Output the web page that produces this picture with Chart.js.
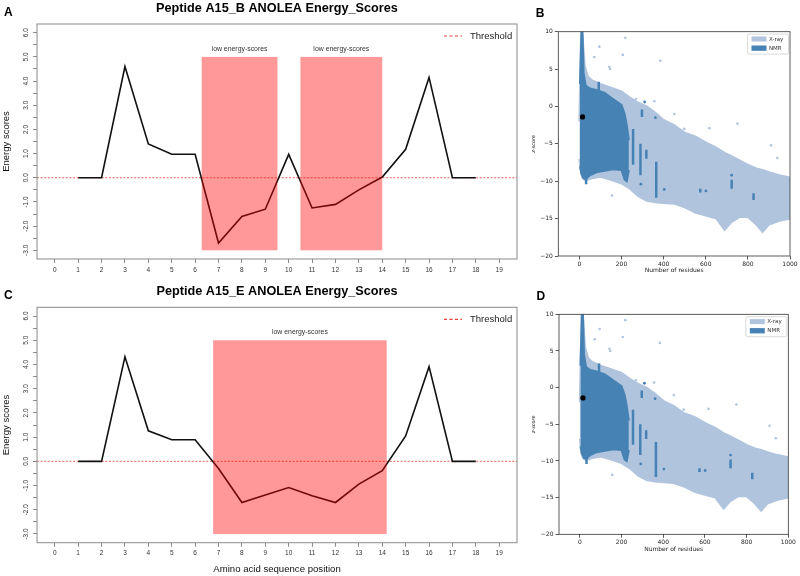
<!DOCTYPE html>
<html>
<head>
<meta charset="utf-8">
<script src="https://cdn.jsdelivr.net/npm/chart.js@4/dist/chart.umd.min.js"></script>
<style>
  body { margin: 0; background: #fff; }
  #wrap { position: relative; width: 800px; height: 576px; }
  #wrap canvas { position: absolute; left: 0; top: 0; }
</style>
</head>
<body>
<div id="wrap">
  <canvas id="panelA" width="800" height="576"></canvas>
  <canvas id="panelB" width="800" height="576"></canvas>
  <canvas id="panelC" width="800" height="576"></canvas>
  <canvas id="panelD" width="800" height="576"></canvas>
</div>
<script>
// ---- energy score panels (A, C)
const positions = [1, 2, 3, 4, 5, 6, 7, 8, 9, 10, 11, 12, 13, 14, 15, 16, 17, 18];
const scoresA15B = [0, 0, 4.6, 1.4, 0.97, 0.97, -2.7, -1.6, -1.3, 0.97, -1.25, -1.1, -0.5, 0.03, 1.18, 4.15, 0, 0];
const scoresA15E = [0, 0, 4.32, 1.26, 0.89, 0.89, -0.3, -1.7, -1.39, -1.08, -1.42, -1.7, -0.94, -0.39, 1.05, 3.91, 0, 0];
const lowRegionsB = [[6.28, 9.52], [10.5, 14.0]];
const lowRegionsE = [[6.77, 14.19]];
const regionTop = 5;
const regionBottom = -3;
const threshold = 0;
const energyXTicks = [0, 1, 2, 3, 4, 5, 6, 7, 8, 9, 10, 11, 12, 13, 14, 15, 16, 17, 18, 19];
const energyYTicks = [-3, -2.5, -2, -1.5, -1, -0.5, 0, 0.5, 1, 1.5, 2, 2.5, 3, 3.5, 4, 4.5, 5, 5.5, 6];

// ---- z-score panels (B, D): outline of the point clouds
const xrayX =     [0, 8, 15, 25, 40, 60, 100, 150, 200, 240, 280, 320, 360, 400, 450, 500, 550, 600, 650, 690, 720, 760, 800, 840, 870, 900, 950, 1000];
const xrayUpper = [-2, 9.8, 9.5, 5.5, 4, 3.5, 3, 2.5, 2, 1.2, 0.5, 0, -0.8, -1.8, -2.5, -3.5, -4, -4.8, -5.5, -6.2, -6.6, -7.2, -7.8, -8.3, -8.5, -8.8, -9.2, -9.5];
const xrayLower = [-7, -9, -9.6, -9.8, -9.8, -9.6, -9.4, -9.8, -10.3, -11, -12, -12.6, -12.8, -12.9, -13, -13.5, -14.2, -14.6, -15, -16.5, -15.5, -14.8, -14.8, -15.8, -16.8, -15.8, -15.3, -15];
const nmrX =      [3, 10, 15, 20, 30, 50, 80, 120, 160, 200, 215, 225, 235];
const nmrUpper =  [3, 9.8, 10, 4.5, 2.8, 2.4, 2.2, 1.8, 1.0, 0.2, -1.0, -2.5, -4.5];
const nmrLower =  [-8, -9, -9.3, -9.6, -9.7, -9.2, -8.8, -8.6, -8.4, -8.5, -9.8, -10, -8.5];
// vertical NMR streaks: [residues, top, bottom]
const nmrStreaks = [[92, 3.3, 2.0], [190, 0.2, -0.9], [205, -2.5, -3.8], [297, -0.4, -1.4], [255, -3, -7.8],
  [290, -5, -9.2], [318, -5.8, -7], [365, -7.4, -12.2], [723, -9.8, -11], [827, -11.6, -12.5], [574, -11, -11.5], [32, -9.6, -10.4]];
const nmrDots = [[361, -1.5], [292, -10.4], [403, -11.1], [601, -11.3], [723, -9.2], [310, 0.6]];
const xrayOutliers = [[95, 8], [218, 9.2], [206, 6.9], [142, 5.3], [146, 5.0], [384, 6.1], [71, 6.6], [751, -2.3],
  [269, 1.0], [356, 0.7], [451, -1.0], [498, -3], [617, -2.9], [910, -5.2], [940, -6.9], [155, -11.9]];
const peptidePoint = [15, -1.4];
const zXTicks = [0, 200, 400, 600, 800, 1000];
const zYTicks = [-20, -15, -10, -5, 0, 5, 10];

const lightBlue = '#b0c4de';
const steelBlue = '#4682b4';

function energyDecor(regions, titleText, letter) {
  return {
    id: 'energyDecor',
    afterDatasetsDraw(chart) {
      const { ctx, chartArea: a, scales: { x, y } } = chart;
      ctx.save();
      for (const [x0, x1] of regions) {
        const px0 = x.getPixelForValue(x0), px1 = x.getPixelForValue(x1);
        const py0 = y.getPixelForValue(regionTop), py1 = y.getPixelForValue(regionBottom);
        ctx.fillStyle = 'rgba(255,0,0,0.4)';
        ctx.fillRect(px0, py0, px1 - px0, py1 - py0);
        ctx.fillStyle = '#333';
        ctx.font = '6.9px "Liberation Sans"';
        ctx.textAlign = 'center';
        ctx.textBaseline = 'middle';
        ctx.fillText('low energy-scores', (px0 + px1) / 2, py0 - 7.7);
      }
      // box
      ctx.strokeStyle = '#8a8a8a';
      ctx.lineWidth = 1;
      ctx.strokeRect(a.left, a.top, a.right - a.left, a.bottom - a.top);
      // legend
      const ly = a.top + 12;
      ctx.strokeStyle = '#e8403c';
      ctx.lineWidth = 1.2;
      ctx.setLineDash([3, 2.5]);
      ctx.beginPath();
      ctx.moveTo(a.right - 73, ly);
      ctx.lineTo(a.right - 55, ly);
      ctx.stroke();
      ctx.setLineDash([]);
      ctx.fillStyle = '#222';
      ctx.font = '9.5px "Liberation Sans"';
      ctx.textAlign = 'left';
      ctx.textBaseline = 'middle';
      ctx.fillText('Threshold', a.right - 47, ly);
      // title and panel letter
      ctx.fillStyle = '#000';
      ctx.font = 'bold 12.7px "Liberation Sans"';
      ctx.textAlign = 'center';
      ctx.fillText(titleText, (a.left + a.right) / 2, a.top - 15.7);
      ctx.font = 'bold 12px "Liberation Sans"';
      ctx.textAlign = 'left';
      ctx.textBaseline = 'alphabetic';
      ctx.fillText(letter, 4, a.top - 8.3);
      ctx.restore();
    }
  };
}

function energyChart(id, scores, regions, area, titleText, letter, xTitle) {
  const xH = xTitle ? 576 - area.bottom : 20;
  const fam = '"Liberation Sans"';
  new Chart(document.getElementById(id), {
    type: 'line',
    data: {
      datasets: [
        {
          label: 'Energy',
          data: positions.map((p, i) => ({ x: p, y: scores[i] })),
          borderColor: '#111', borderWidth: 1.6, pointRadius: 0, tension: 0
        },
        {
          label: 'Threshold',
          data: [{ x: -0.76, y: threshold }, { x: 19.76, y: threshold }],
          borderColor: 'rgba(232,70,66,0.85)', borderWidth: 1, borderDash: [2, 1.6], pointRadius: 0
        }
      ]
    },
    options: {
      responsive: false, animation: false, events: [],
      layout: { padding: { left: 0, top: area.top, right: 800 - area.right, bottom: 576 - area.bottom - xH } },
      plugins: { legend: { display: false }, tooltip: { enabled: false } },
      scales: {
        x: {
          type: 'linear', min: -0.76, max: 19.76,
          afterBuildTicks: s => { s.ticks = energyXTicks.map(v => ({ value: v })); },
          afterFit: s => { s.height = xH; },
          grid: { drawOnChartArea: false, tickLength: 4, color: '#8a8a8a' },
          border: { display: false },
          ticks: { autoSkip: false, maxRotation: 0, padding: 3, color: '#333', font: { family: fam, size: 6.5 } },
          title: { display: !!xTitle, text: xTitle || '', color: '#111', padding: { top: 0, bottom: 1.2 }, font: { family: fam, size: 9.6 } }
        },
        y: {
          min: -3.36, max: 6.36,
          afterBuildTicks: s => { s.ticks = energyYTicks.map(v => ({ value: v })); },
          afterFit: s => { s.width = area.left; },
          grid: { drawOnChartArea: false, tickLength: 4, color: '#8a8a8a' },
          border: { display: false },
          ticks: {
            autoSkip: false, minRotation: 90, maxRotation: 90, crossAlign: 'center', padding: 1.5,
            color: '#333', font: { family: fam, size: 6.5 },
            callback: v => Number.isInteger(v) ? v.toFixed(1) : ''
          },
          title: { display: true, text: 'Energy scores', color: '#111', padding: { top: 0.5, bottom: 0 }, font: { family: fam, size: 9.5 } }
        }
      }
    },
    plugins: [energyDecor(regions, titleText, letter)]
  });
}

function zDecor(letter) {
  return {
    id: 'zDecor',
    afterDatasetsDraw(chart) {
      const { ctx, chartArea: a } = chart;
      ctx.save();
      ctx.strokeStyle = '#333';
      ctx.lineWidth = 0.8;
      ctx.strokeRect(a.left, a.top, a.right - a.left, a.bottom - a.top);
      // legend
      const lx = a.right - 42.5, ly = a.top + 2.4;
      ctx.fillStyle = 'rgba(255,255,255,0.85)';
      ctx.strokeStyle = '#d0d0d0';
      ctx.lineWidth = 0.8;
      ctx.beginPath();
      ctx.roundRect(lx, ly, 41, 20, 1.5);
      ctx.fill();
      ctx.stroke();
      ctx.fillStyle = lightBlue;
      ctx.fillRect(lx + 4, ly + 2.4, 15, 5);
      ctx.fillStyle = steelBlue;
      ctx.fillRect(lx + 4, ly + 11.4, 15, 5.3);
      ctx.fillStyle = '#333';
      ctx.font = '5.5px "DejaVu Sans"';
      ctx.textAlign = 'left';
      ctx.textBaseline = 'middle';
      ctx.fillText('X-ray', lx + 21.5, ly + 5);
      ctx.fillText('NMR', lx + 21.5, ly + 14);
      ctx.fillStyle = '#000';
      ctx.font = 'bold 12px "Liberation Sans"';
      ctx.textBaseline = 'alphabetic';
      ctx.fillText(letter, a.left - 22.5, a.top - 14.4);
      ctx.restore();
    }
  };
}

function zChart(id, area, letter) {
  const fam = '"DejaVu Sans"';
  const yW = 30, xH = 20;
  const pts = (xs, ys) => xs.map((x, i) => ({ x: x, y: ys[i] }));
  const streakData = [];
  for (const [x, y1, y2] of nmrStreaks) {
    streakData.push({ x: x, y: y1 }, { x: x, y: y2 }, { x: x, y: null });
  }
  const band = (c) => ({ borderColor: c, backgroundColor: c, borderWidth: 2, pointRadius: 0, tension: 0 });
  // Chart.js paints the last dataset first, so the topmost marks come first here
  new Chart(document.getElementById(id), {
    type: 'line',
    data: {
      datasets: [
        {
          label: 'Peptide', data: [{ x: peptidePoint[0], y: peptidePoint[1] }], showLine: false,
          pointRadius: 2.6, pointBorderWidth: 0, pointBackgroundColor: '#000'
        },
        {
          label: 'NMR dots', data: nmrDots.map(p => ({ x: p[0], y: p[1] })), showLine: false,
          pointRadius: 1.4, pointBorderWidth: 0, pointBackgroundColor: steelBlue
        },
        { label: 'NMR streaks', data: streakData, borderColor: steelBlue, borderWidth: 2.5, pointRadius: 0, spanGaps: false },
        Object.assign({ label: 'NMR', data: pts(nmrX, nmrUpper), fill: '+1' }, band(steelBlue)),
        Object.assign({ label: 'NMR low', data: pts(nmrX, nmrLower), fill: false }, band(steelBlue)),
        {
          label: 'X-ray outliers', data: xrayOutliers.map(p => ({ x: p[0], y: p[1] })), showLine: false,
          pointRadius: 1.3, pointBorderWidth: 0, pointBackgroundColor: lightBlue
        },
        Object.assign({ label: 'X-ray', data: pts(xrayX, xrayUpper), fill: '+1' }, band(lightBlue)),
        Object.assign({ label: 'X-ray low', data: pts(xrayX, xrayLower), fill: false }, band(lightBlue))
      ]
    },
    options: {
      responsive: false, animation: false, events: [],
      layout: { padding: { left: area.left - yW, top: area.top, right: 800 - area.right, bottom: 576 - area.bottom - xH } },
      plugins: { legend: { display: false }, tooltip: { enabled: false } },
      scales: {
        x: {
          type: 'linear', min: -100, max: 1000,
          afterBuildTicks: s => { s.ticks = zXTicks.map(v => ({ value: v })); },
          afterFit: s => { s.height = xH; },
          grid: { drawOnChartArea: false, tickLength: 3.5, color: '#333', lineWidth: 0.8 },
          border: { display: false },
          ticks: {
            autoSkip: false, maxRotation: 0, padding: 1, color: '#222', font: { family: fam, size: 6 },
            callback: v => String(v)
          },
          title: { display: true, text: 'Number of residues', color: '#222', padding: { top: 0, bottom: 1.6 }, font: { family: fam, size: 6 } }
        },
        y: {
          min: -20, max: 10,
          afterBuildTicks: s => { s.ticks = zYTicks.map(v => ({ value: v })); },
          afterFit: s => { s.width = yW; },
          grid: { drawOnChartArea: false, tickLength: 3.5, color: '#333', lineWidth: 0.8 },
          border: { display: false },
          ticks: {
            autoSkip: false, padding: 2, color: '#222', font: { family: fam, size: 6 },
            callback: v => v < 0 ? '\u2212' + Math.abs(v) : String(v)
          },
          title: { display: true, text: 'z-score', color: '#222', padding: { top: 2, bottom: 0 }, font: { family: fam, size: 5, style: 'italic' } }
        }
      }
    },
    plugins: [zDecor(letter)]
  });
}

energyChart('panelA', scoresA15B, lowRegionsB, { left: 37, top: 24, right: 517, bottom: 259 },
  'Peptide A15_B ANOLEA Energy_Scores', 'A', null);
energyChart('panelC', scoresA15E, lowRegionsE, { left: 37, top: 307.3, right: 517, bottom: 542.7 },
  'Peptide A15_E ANOLEA Energy_Scores', 'C', 'Amino acid sequence position');
zChart('panelB', { left: 558.3, top: 31.7, right: 790, bottom: 256 }, 'B');
zChart('panelD', { left: 559, top: 314.3, right: 788.3, bottom: 534.3 }, 'D');
</script>
</body>
</html>
